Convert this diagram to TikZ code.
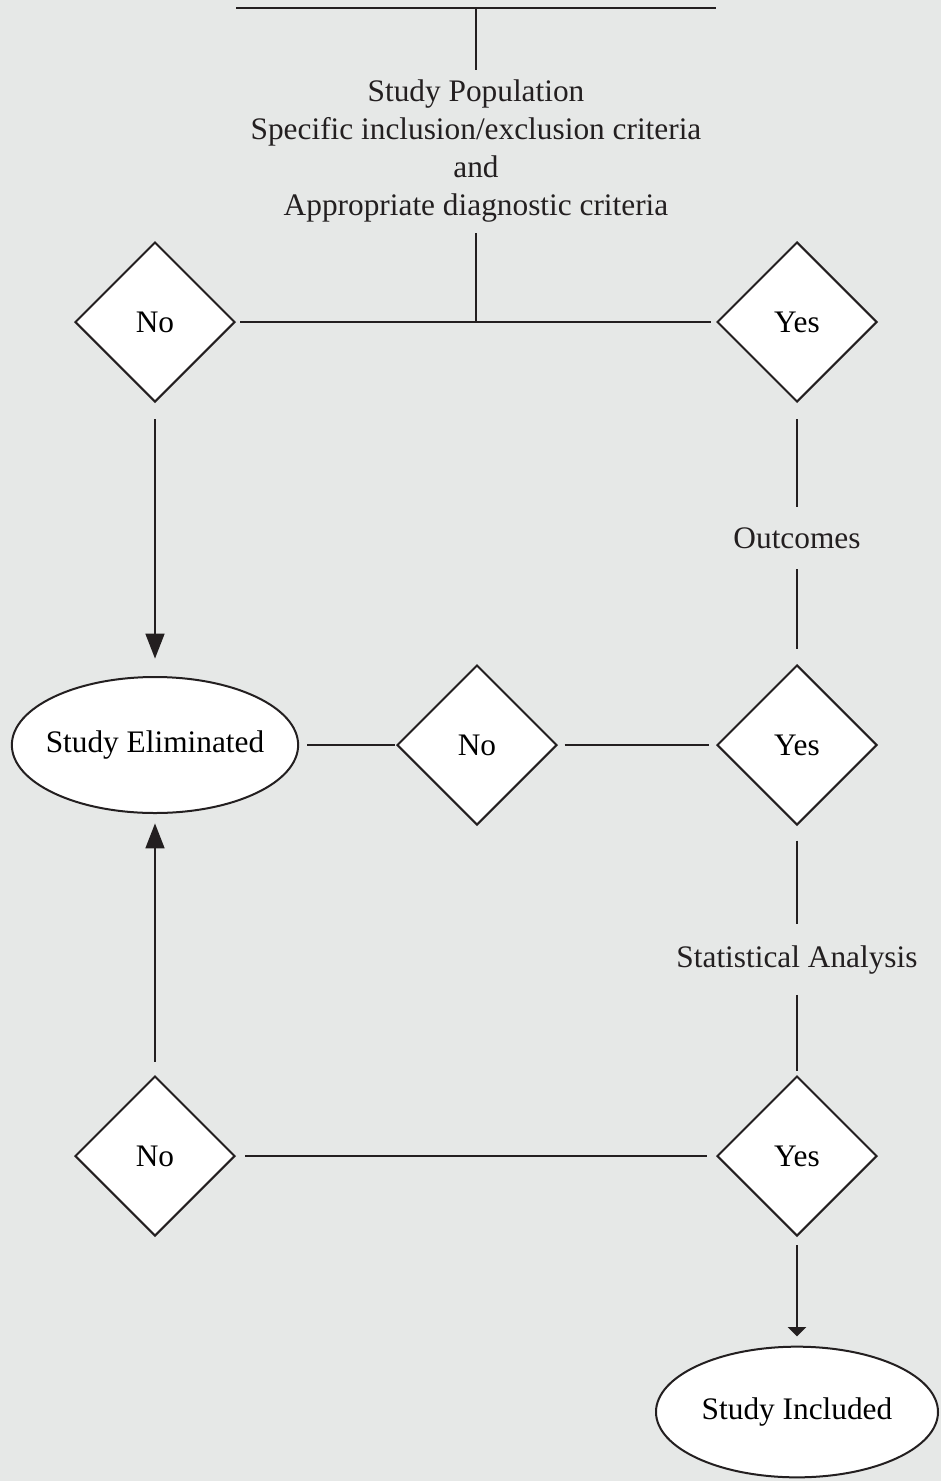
\documentclass[tikz,border=0pt]{standalone}
\usepackage{fontspec}
\setmainfont{Liberation Serif}
\usetikzlibrary{shapes.geometric,arrows.meta}

\definecolor{bgpanel}{RGB}{230,232,231}
\definecolor{inkgray}{RGB}{35,31,32}

\tikzset{every picture/.style={line width=0.75pt}}
\tikzset{
  decision/.style={draw=inkgray, fill=white, diamond, aspect=1, minimum size=120pt, inner sep=0pt, line width=1.5pt},
  terminal/.style={draw=inkgray, fill=white, ellipse, inner xsep=-6pt, inner ysep=0pt, line width=1.5pt},
  link/.style={draw=inkgray, line width=2pt},
  label/.style={text=inkgray, inner sep=0pt, align=center}
}

\begin{document}
\begin{tikzpicture}[x=0.75pt,y=0.75pt,yscale=-1,xscale=1,font=\fontsize{23.5}{28.5}\selectfont]
	%set diagram size 941 x 1481
	\useasboundingbox (0,0) rectangle (941,1481);
	\fill[bgpanel] (0,0) rectangle (941,1481);

	% Top bar
	\coordinate (barL) at (236,8);
	\coordinate (barR) at (716,8);
	\coordinate (barM) at (476,8);
	\coordinate (junc) at (476,322);

	% Text Node
	\node[label] (crit) at (476,151) {Study Population\\Specific inclusion/exclusion criteria\\and\\Appropriate diagnostic criteria};

	% Decisions
	\node[decision] (no1) at (155,322) {No};
	\node[decision] (yes1) at (797,322) {Yes};
	\node[decision] (no2) at (477,745) {No};
	\node[decision] (yes2) at (797,745) {Yes};
	\node[decision] (no3) at (155,1156) {No};
	\node[decision] (yes3) at (797,1156) {Yes};

	% Terminals
	\node[terminal, minimum width=214.5pt, minimum height=102pt] (elim) at (155,745) {Study Eliminated};
	\node[terminal, minimum width=211.5pt, minimum height=98pt] (incl) at (797,1412) {Study Included};

	% Text Node
	\node[label] (outc) at (797,538) {Outcomes};
	\node[label] (stat) at (797,960) {Statistical Analysis};

	% Straight Lines
	\draw[link] (barL) -- (barR);
	\draw[link, shorten >=7pt] (barM) -- (crit.north);
	\draw[link, shorten <=8pt] (crit.south) -- (junc);
	\draw[link, shorten <=3pt, shorten >=4pt] (no1.east) -- (yes1.west);
	\draw[link, shorten <=12pt, shorten >=15pt] (yes1.south) -- (outc.north);
	\draw[link, shorten <=15pt, shorten >=11pt] (outc.south) -- (yes2.north);
	\draw[link, shorten <=6pt, shorten >=1pt] (elim.east) -- (no2.west);
	\draw[link, shorten <=5pt, shorten >=5pt] (no2.east) -- (yes2.west);
	\draw[link, shorten <=11pt, shorten >=16pt] (yes2.south) -- (stat.north);
	\draw[link, shorten <=15pt, shorten >=3pt] (stat.south) -- (yes3.north);
	\draw[link, shorten <=7pt, shorten >=7pt] (no3.east) -- (yes3.west);

	% Arrows
	\draw[link, -{Triangle[length=18.75pt, width=14pt]}, shorten <=12pt, shorten >=13pt] (no1.south) -- (elim.north);
	\draw[link, -{Triangle[length=18.75pt, width=14pt]}, shorten <=10pt, shorten >=7pt] (no3.north) -- (elim.south);
	\draw[link, -{Triangle[length=7pt, width=13.5pt]}, shorten <=6pt, shorten >=7pt] (yes3.south) -- (incl.north);

\end{tikzpicture}
\end{document}
